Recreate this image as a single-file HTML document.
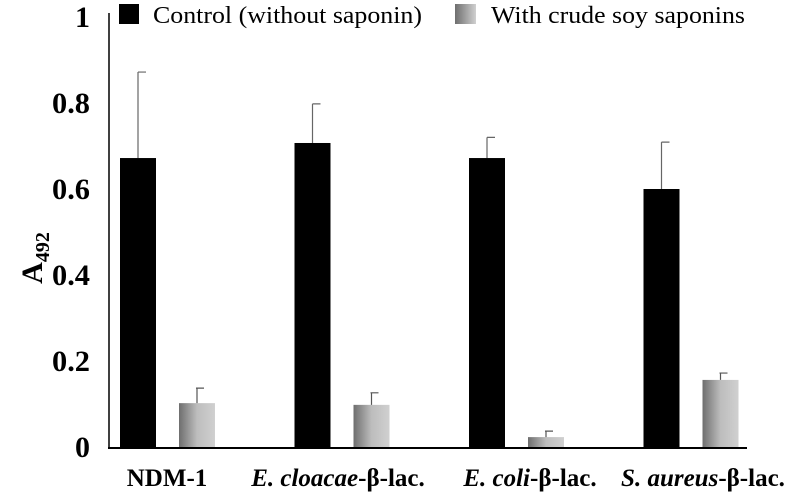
<!DOCTYPE html>
<html><head><meta charset="utf-8"><style>
body{margin:0;background:#fff;width:796px;height:496px;overflow:hidden}
svg text{font-family:"Liberation Serif",serif}
</style></head><body>
<svg id="chart" width="796" height="496">
<defs><linearGradient id="g" x1="0" x2="1" y1="0" y2="0"><stop offset="0" stop-color="#6e6e6e"/><stop offset="0.5" stop-color="#bdbdbd"/><stop offset="1" stop-color="#d0d0d0"/></linearGradient></defs>
</svg>
<script>
const categories=["NDM-1","E. cloacae","E. coli","S. aureus"];
const italicPart=["","E. cloacae","E. coli","S. aureus"];
const controlVals=[0.672,0.707,0.672,0.600];
const controlErr=[0.200,0.091,0.048,0.109];
const saponinVals=[0.102,0.098,0.023,0.156];
const saponinErr=[0.035,0.028,0.014,0.016];
const yTicks=[0,0.2,0.4,0.6,0.8,1];
const yTickLabels=["0","0.2","0.4","0.6","0.8","1"];

const svg=document.getElementById('chart');
const NS='http://www.w3.org/2000/svg';
const y0=447,yPx=430;
const y=v=>y0-v*yPx;
const groupX=i=>120+i*174.5;
const labelCenter=[167,338,530,703];
function mk(t,a,p){const e=document.createElementNS(NS,t);for(const k in a)e.setAttribute(k,a[k]);(p||svg).appendChild(e);return e;}

const ax=mk('line',{x1:109,y1:13,x2:109,y2:y0,stroke:'#000','stroke-width':1.5});


const xa=mk('line',{x1:108,y1:y0+1,x2:747,y2:y0+1,stroke:'#000','stroke-width':2});



yTicks.forEach((v,i)=>{
  const t=mk('text',{x:90,y:y(v)+10,'text-anchor':'end','font-size':30,'font-weight':'bold'});
  if(yTickLabels[i].length>1){t.setAttribute('textLength',38);t.setAttribute('lengthAdjust','spacingAndGlyphs');}
  t.textContent=yTickLabels[i];
  
  
});

categories.forEach((c,i)=>{
  const gx=groupX(i);
  const b=mk('rect',{x:gx,y:y(controlVals[i]),width:36,height:controlVals[i]*yPx,fill:'#000'});
  
  
  const ex=gx+18;
  const e1=mk('path',{d:`M${ex},${y(controlVals[i])}V${y(controlVals[i]+controlErr[i])}M${ex},${y(controlVals[i]+controlErr[i])}H${ex+8}`,stroke:'#666','stroke-width':1.2,fill:'none'});
  
  
  const sx=gx+59;
  const s=mk('rect',{x:sx,y:y(saponinVals[i]),width:36,height:saponinVals[i]*yPx,fill:'url(#g)'});
  
  
  const ex2=sx+18;
  const e2=mk('path',{d:`M${ex2},${y(saponinVals[i])}V${y(saponinVals[i]+saponinErr[i])}M${ex2-1},${y(saponinVals[i]+saponinErr[i])}H${ex2+7}`,stroke:'#555','stroke-width':1.2,fill:'none'});
  
  
  const t=mk('text',{x:labelCenter[i],y:486,'text-anchor':'middle','font-size':25,'font-weight':'bold'});
  
  
  if(italicPart[i]){
    const it=mk('tspan',{'font-style':'italic'},t);it.textContent=italicPart[i];
    const r=mk('tspan',{},t);r.textContent='-β-lac.';
  } else t.textContent=c;
});
</script>
<svg style="position:absolute;left:0;top:0" width="796" height="496">
<defs><linearGradient id="g2" x1="0" x2="1"><stop offset="0" stop-color="#6e6e6e"/><stop offset="1" stop-color="#d0d0d0"/></linearGradient></defs>
<g>
<rect x="119" y="4" width="20" height="20" fill="#000"/>
<text x="153" y="23" font-size="24" textLength="269" lengthAdjust="spacingAndGlyphs" font-family="Liberation Serif,serif">Control (without saponin)</text>
<rect x="455" y="4" width="21" height="20" fill="url(#g2)"/>
<text x="491" y="23" font-size="24" textLength="254" lengthAdjust="spacingAndGlyphs" font-family="Liberation Serif,serif">With crude soy saponins</text>
</g>
<text transform="translate(42,258) rotate(-90)" text-anchor="middle" font-size="30" font-weight="bold" font-family="Liberation Serif,serif">A<tspan font-size="20" dy="7">492</tspan></text>
</svg>
</body></html>
